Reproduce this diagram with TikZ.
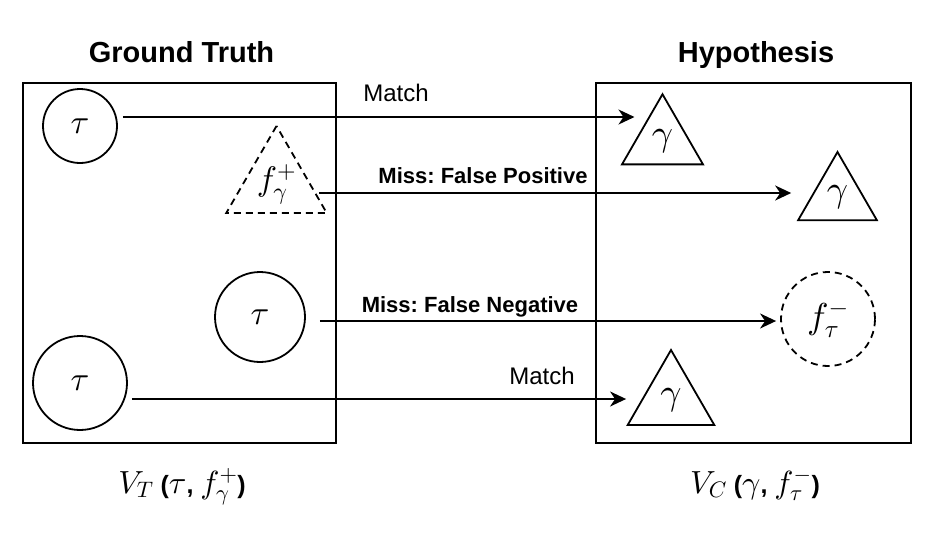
\documentclass[tikz,border=0pt]{standalone}
\usepackage{fix-cm}
\usepackage{amsmath}
\usepackage{fontspec}
\setmainfont{Liberation Sans}
\usetikzlibrary{shapes.geometric,arrows.meta}
\frenchspacing
% math fonts at any size
\DeclareFontShape{OML}{cmm}{m}{it}{<->cmmi10}{}
\DeclareFontShape{OMS}{cmsy}{m}{n}{<->cmsy10}{}
\DeclareFontShape{OT1}{cmr}{m}{n}{<->cmr10}{}

\newcommand\setfs[1]{\fontsize{#1}{#1}\selectfont}
\newcommand\vmath[1]{{\setfs{32pt}$#1$}}

\tikzset{
  box/.style={draw, rectangle, line width=1.8pt, inner sep=0pt},
  sym/.style={draw, circle, line width=1.8pt, inner sep=0pt, font=\setfs{34pt}},
  tri/.style={draw, regular polygon, regular polygon sides=3, line width=1.8pt,
    inner sep=0pt, font=\setfs{37pt}},
  miss/.style={dash pattern=on 7pt off 5pt},
  link/.style={-{Stealth[length=16pt,width=15pt,inset=5pt]}, line width=1.8pt},
  title/.style={font=\setfs{29pt}\bfseries, anchor=base},
  lbl/.style={font=\setfs{24pt}, anchor=base},
  misslbl/.style={font=\setfs{22pt}\bfseries, anchor=base},
  formula/.style={font=\setfs{25pt}\bfseries, anchor=base}
}

\begin{document}
\begin{tikzpicture}[x=1pt,y=-1pt]
  \useasboundingbox (0,0) rectangle (938,542);

  % Draw the two boxes and their titles
  \node[box, minimum width=313pt, minimum height=360pt] (gtbox) at (179.5,263) {};
  \node[box, minimum width=315pt, minimum height=360pt] (hybox) at (753.5,263) {};
  \node[title] (gttitle) at (181.5,62) {Ground Truth};
  \node[title] (hytitle) at (756,62) {Hypothesis};

  % Ground truth side
  \node[sym, minimum size=74pt] (c1) at (80,126) {$\tau$};
  \node[sym, minimum size=90pt] (c2) at (260,317) {$\tau$};
  \node[sym, minimum size=94pt] (c3) at (80,383) {$\tau$};
  \node[tri, miss, minimum size=116pt, font=\setfs{34pt}] (fp) at (276.5,184) {$f_\gamma^+$};

  % Hypothesis side
  \node[tri, minimum size=93.5pt] (g1) at (662.5,141) {$\gamma$};
  \node[tri, minimum size=91pt] (g2) at (837.5,197.5) {$\gamma$};
  \node[tri, minimum size=100pt] (g3) at (671,400) {$\gamma$};
  \node[sym, miss, minimum size=94pt, font=\setfs{36pt}] (fn) at (828,319) {$f_\tau^-$};

  % Start points of the arrows
  \path ([xshift=5pt,yshift=9pt]c1.east) coordinate (m1);
  \path ([xshift=8pt,yshift=-9pt]fp.east) coordinate (m2);
  \path ([xshift=14pt,yshift=-4pt]c2.east) coordinate (m3);
  \path ([xshift=4pt,yshift=-16pt]c3.east) coordinate (m4);

  % Draw the arrows
  \draw[link] (m1) -- (m1 -| g1.west);
  \draw[link, shorten >=19pt] (m2) -- (m2 -| g2.west);
  \draw[link, shorten >=4pt] (m3) -- (m3 -| fn.west);
  \draw[link, shorten >=15pt] (m4) -- (m4 -| g3.west);

  % Arrow labels
  \node[lbl] (l1) at (396,101) {Match};
  \node[misslbl] (l2) at (483,183) {Miss: False Positive};
  \node[misslbl] (l3) at (470,312) {Miss: False Negative};
  \node[lbl] (l4) at (542,384) {Match};

  % Vertex sets
  \node[formula] (vt) at (182,493) {\vmath{V_T} (\vmath{\tau}, \vmath{f_\gamma^+})};
  \node[formula] (vc) at (755,493) {\vmath{V_C} (\vmath{\gamma}, \vmath{f_\tau^-})};
\end{tikzpicture}
\end{document}
